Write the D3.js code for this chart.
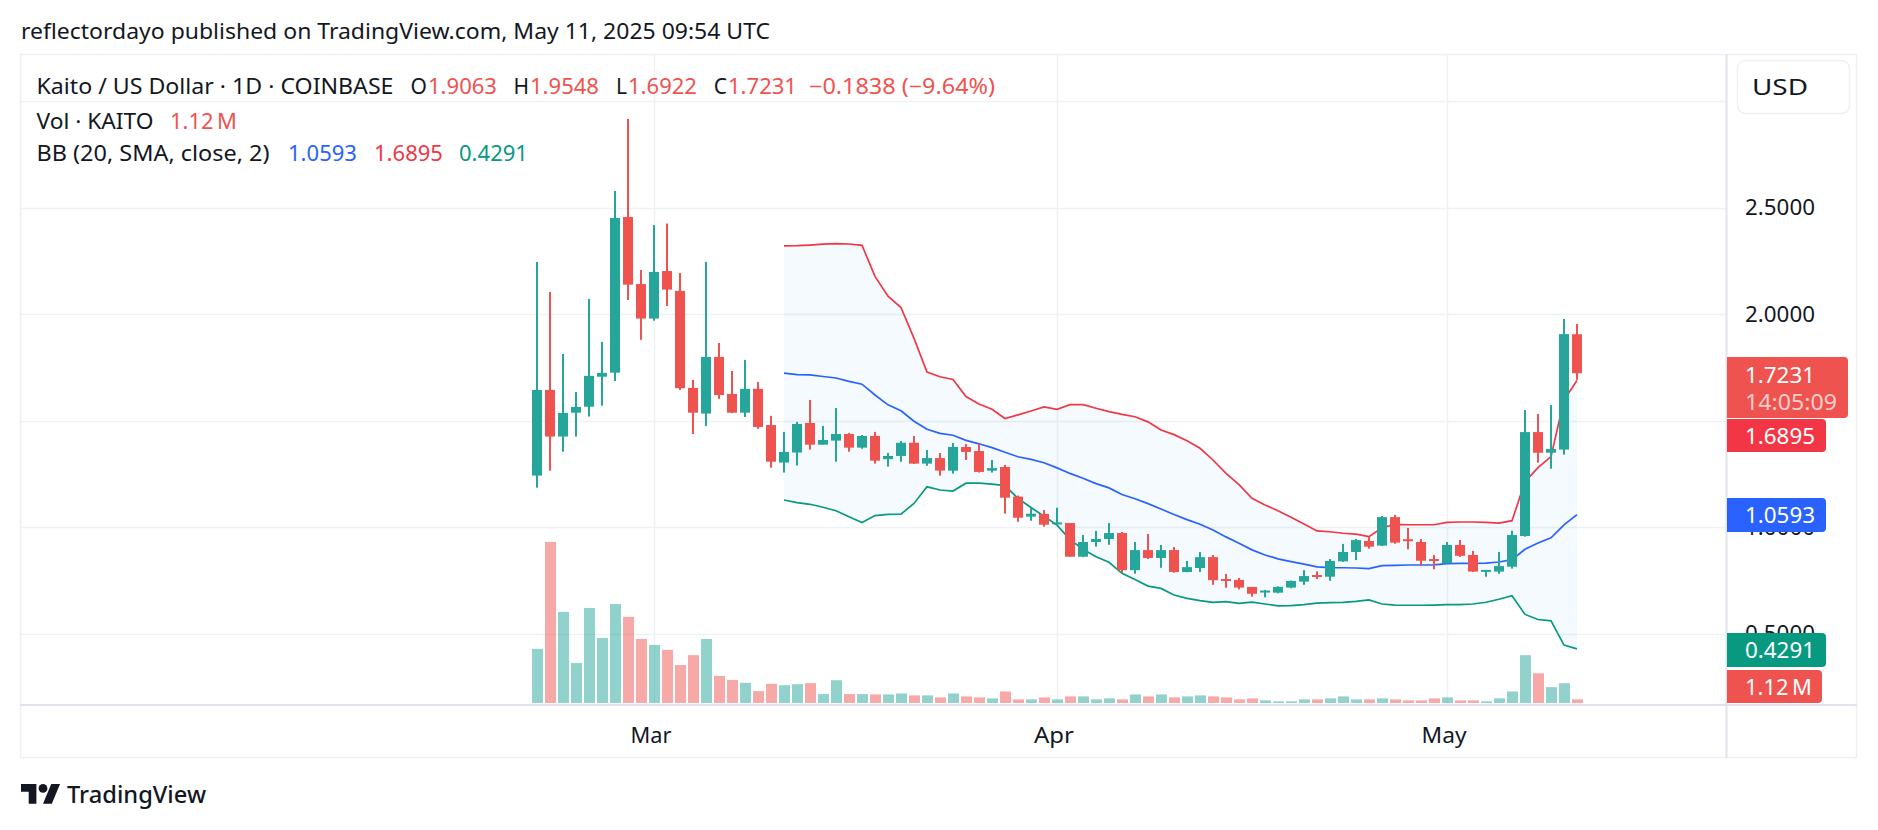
<!DOCTYPE html>
<html><head><meta charset="utf-8">
<script src="https://cdn.jsdelivr.net/npm/d3@7"></script>
<style>html,body{margin:0;padding:0;background:#fff;}svg{display:block;font-family:"Noto Sans",Roboto,sans-serif;}</style>
</head><body>
<svg id="c" width="1878" height="830"></svg>
<script>
// ---------- data ----------
const startDate = "2025-02-20", endDate = "2025-05-11";
const opens  = [1.243,1.645,1.426,1.538,1.566,1.707,1.726,2.457,2.142,1.980,2.203,2.110,1.654,1.534,1.800,1.626,1.538,1.650,1.480,1.304,1.351,1.490,1.388,1.407,1.438,1.374,1.429,1.320,1.335,1.397,1.299,1.325,1.266,1.377,1.358,1.266,1.283,1.144,1.050,1.063,1.017,1.020,0.862,0.931,0.945,0.973,0.799,0.893,0.856,0.893,0.790,0.809,0.860,0.757,0.753,0.720,0.698,0.693,0.717,0.745,0.776,0.768,0.840,0.884,0.936,0.914,1.048,0.944,0.931,0.851,0.831,0.917,0.870,0.792,0.792,0.815,0.959,1.447,1.350,1.365,1.9063];
const highs  = [2.246,2.105,1.814,1.635,2.072,1.870,2.579,2.917,2.208,2.419,2.426,2.194,1.692,2.246,1.865,1.734,1.786,1.682,1.523,1.448,1.495,1.598,1.476,1.560,1.443,1.433,1.448,1.349,1.405,1.429,1.363,1.349,1.396,1.391,1.391,1.316,1.293,1.149,1.092,1.081,1.092,1.020,0.964,0.983,1.020,0.978,0.931,0.969,0.917,0.907,0.842,0.884,0.870,0.781,0.762,0.720,0.706,0.723,0.750,0.799,0.793,0.851,0.922,0.945,0.954,1.053,1.058,0.997,0.945,0.870,0.931,0.940,0.889,0.800,0.884,0.984,1.551,1.532,1.574,1.978,1.9548];
const lows   = [1.186,1.266,1.355,1.426,1.520,1.571,1.687,2.067,1.880,1.970,2.039,1.645,1.438,1.476,1.603,1.536,1.518,1.462,1.280,1.257,1.290,1.365,1.388,1.308,1.355,1.369,1.299,1.285,1.308,1.297,1.289,1.242,1.252,1.316,1.257,1.257,1.064,1.026,1.031,1.003,1.012,0.862,0.860,0.909,0.918,0.787,0.782,0.851,0.810,0.787,0.789,0.790,0.730,0.716,0.709,0.674,0.671,0.690,0.714,0.730,0.757,0.749,0.838,0.846,0.900,0.912,0.923,0.897,0.820,0.803,0.830,0.861,0.790,0.768,0.782,0.806,0.956,1.304,1.275,1.341,1.6922];
const closes = [1.645,1.426,1.537,1.565,1.711,1.725,2.452,2.139,1.980,2.199,2.116,1.653,1.538,1.800,1.621,1.538,1.650,1.471,1.308,1.354,1.485,1.388,1.410,1.438,1.374,1.429,1.313,1.335,1.397,1.299,1.325,1.266,1.377,1.354,1.260,1.278,1.139,1.045,1.064,1.012,1.023,0.862,0.931,0.945,0.973,0.799,0.893,0.856,0.893,0.790,0.813,0.860,0.752,0.749,0.717,0.688,0.703,0.720,0.748,0.771,0.768,0.842,0.884,0.940,0.909,1.048,0.928,0.937,0.843,0.845,0.917,0.866,0.792,0.800,0.818,0.964,1.447,1.350,1.368,1.9069,1.7231];
// volume in millions
const volumes = [16.4,48.8,27.6,12.1,28.8,19.7,30.0,26.1,19.4,17.6,16.1,11.5,14.5,19.4,8.2,7.0,6.1,3.6,5.8,5.4,5.7,6.0,2.7,6.9,2.7,2.7,2.6,2.6,2.9,2.3,2.3,1.7,2.9,2.0,1.7,1.4,3.5,1.1,1.1,1.7,1.1,2.0,2.0,1.1,1.4,1.1,2.6,2.0,2.6,1.7,2.0,2.3,2.0,1.7,1.1,1.4,0.8,0.5,0.5,1.1,1.1,1.4,2.0,1.1,1.1,1.4,1.1,0.8,0.8,1.4,1.7,0.8,0.8,0.5,1.4,3.5,14.5,9.0,4.8,6.0,1.12];
// Bollinger bands (20, SMA, close, 2) from the 20th candle (Mar 11)
const bbStartIndex = 19;
const bbUpper = [2.321,2.322,2.325,2.329,2.332,2.330,2.324,2.178,2.085,2.032,1.887,1.729,1.707,1.694,1.614,1.579,1.554,1.511,1.528,1.546,1.565,1.554,1.576,1.576,1.559,1.543,1.530,1.519,1.495,1.457,1.435,1.406,1.371,1.316,1.253,1.200,1.136,1.105,1.078,1.047,1.015,0.983,0.979,0.972,0.968,0.956,0.998,1.014,1.012,1.012,1.012,1.023,1.025,1.025,1.023,1.020,1.031,1.214,1.280,1.332,1.598,1.6895];
const bbBasis = [1.724,1.717,1.716,1.708,1.701,1.685,1.672,1.621,1.575,1.547,1.498,1.460,1.441,1.432,1.408,1.392,1.374,1.352,1.331,1.319,1.303,1.279,1.253,1.230,1.205,1.185,1.154,1.134,1.111,1.086,1.060,1.036,1.014,0.987,0.955,0.925,0.894,0.870,0.852,0.839,0.827,0.814,0.811,0.810,0.809,0.806,0.820,0.821,0.823,0.823,0.824,0.829,0.831,0.831,0.832,0.837,0.848,0.897,0.926,0.951,1.011,1.0593];
const bbLower = [1.128,1.116,1.108,1.094,1.078,1.050,1.022,1.055,1.061,1.062,1.112,1.190,1.175,1.170,1.207,1.207,1.203,1.196,1.135,1.093,1.052,1.010,0.942,0.897,0.862,0.836,0.784,0.755,0.724,0.713,0.682,0.666,0.656,0.648,0.651,0.643,0.649,0.640,0.631,0.632,0.637,0.644,0.646,0.648,0.652,0.659,0.640,0.635,0.634,0.634,0.635,0.637,0.637,0.640,0.648,0.662,0.679,0.591,0.567,0.561,0.447,0.4291];
const priceTicks = [0.5,1.0,1.5,2.0,2.5,3.0];
const priceLabels = [0.5,1.0,2.0,2.5];   // 1.5000 is fully hidden behind the value boxes

// ---------- colors ----------
const UP="#26A69A", DN="#EF5350", TXT="#131722", GRID="#F0F1F4", BORDER="#E0E3EB";

const svg = d3.select("#c");
svg.append("rect").attr("width",1878).attr("height",830).attr("fill","#fff");

const parse = d3.utcParse("%Y-%m-%d");
const d0 = parse(startDate), d1 = parse(endDate);
const dates = d3.utcDay.range(d0, d3.utcDay.offset(d1,1));
const bars = dates.map((d,i)=>({d,o:opens[i],h:highs[i],l:lows[i],c:closes[i],v:volumes[i]}));

const x = d3.scaleUtc().domain([d0,d1]).range([537,1577]);
const y = d3.scaleLinear().domain([0.5,3.0]).range([633.8,101.3]);
const yv = d3.scaleLinear().domain([0,50]).range([703,538]);

const L=20, R=1726, T=54, B=705;

// text helper: fit to a measured width
function fit(sel, w){
  if(!w) return sel;
  sel.attr("textLength",w).attr("lengthAdjust","spacingAndGlyphs");
  return sel;
}
function txt(parent,xp,yp,t,c,size,w,anchor){
  const s = parent.append("text").attr("x",xp).attr("y",yp).attr("dy","0.36em")
    .attr("font-size",size||21).attr("fill",c||TXT).attr("text-anchor",anchor||"start").text(t);
  return fit(s,w);
}

// grid
const g = svg.append("g");
g.selectAll("line.h").data(priceTicks).join("line")
  .attr("x1",L).attr("x2",R).attr("y1",d=>Math.round(y(d))+0.5).attr("y2",d=>Math.round(y(d))+0.5)
  .attr("stroke",GRID).attr("stroke-width",1.5);
const months = x.ticks(d3.utcMonth.every(1)).filter(d=>d>=d0);
g.selectAll("line.v").data(months).join("line")
  .attr("x1",d=>Math.round(x(d))+0.5).attr("x2",d=>Math.round(x(d))+0.5).attr("y1",T).attr("y2",B)
  .attr("stroke",GRID).attr("stroke-width",1.5);

// volume
svg.append("g").selectAll("rect").data(bars).join("rect")
  .attr("x",d=>x(d.d)-5).attr("width",11)
  .attr("y",d=>yv(d.v)).attr("height",d=>Math.max(1,yv(0)-yv(d.v)))
  .attr("fill",d=>d.c>=d.o?UP:DN).attr("fill-opacity",0.5);

// BB
const bb = bbUpper.map((u,k)=>({d:dates[bbStartIndex+k],u,m:bbBasis[k],lo:bbLower[k]}));
svg.append("path").datum(bb).attr("fill","rgba(33,150,243,0.05)")
  .attr("d",d3.area().x(d=>x(d.d)).y0(d=>y(d.lo)).y1(d=>y(d.u)));
const line = f => d3.line().x(d=>x(d.d)).y(d=>y(f(d)));
svg.append("path").datum(bb).attr("fill","none").attr("stroke","#F23645").attr("stroke-width",1.7).attr("d",line(d=>d.u));
svg.append("path").datum(bb).attr("fill","none").attr("stroke","#2962FF").attr("stroke-width",1.7).attr("d",line(d=>d.m));
svg.append("path").datum(bb).attr("fill","none").attr("stroke","#089981").attr("stroke-width",1.7).attr("d",line(d=>d.lo));

// candles
const cg = svg.append("g");
cg.selectAll("rect.w").data(bars).join("rect")
  .attr("x",d=>x(d.d)-1).attr("width",2)
  .attr("y",d=>y(d.h)).attr("height",d=>y(d.l)-y(d.h))
  .attr("fill",d=>d.c>=d.o?UP:DN);
cg.selectAll("rect.b").data(bars).join("rect")
  .attr("x",d=>x(d.d)-5).attr("width",10)
  .attr("y",d=>y(Math.max(d.o,d.c))).attr("height",d=>Math.max(2,Math.abs(y(d.o)-y(d.c))))
  .attr("fill",d=>d.c>=d.o?UP:DN);

// frame
svg.append("rect").attr("x",20.5).attr("y",54.5).attr("width",1836).attr("height",703)
  .attr("fill","none").attr("stroke","#EEF0F3").attr("stroke-width",1.5);
svg.append("line").attr("x1",20).attr("x2",1857).attr("y1",705).attr("y2",705).attr("stroke",BORDER).attr("stroke-width",2);
svg.append("line").attr("x1",1726.5).attr("x2",1726.5).attr("y1",54).attr("y2",758).attr("stroke",BORDER).attr("stroke-width",2);

// price axis labels
const pa = svg.append("g");
priceLabels.forEach(p=>txt(pa,1745,y(p),d3.format(".4f")(p),TXT,21,70));

// time axis labels
const ta = svg.append("g");
const monthW = {Mar:41, Apr:40, May:45};
months.forEach(m=>{const t=d3.utcFormat("%b")(m); txt(ta,x(m)-3,735,t,TXT,21,monthW[t],"middle");});

// value boxes on price axis
function box(y0,h,w,fill,lines){
  const gb = svg.append("g");
  gb.append("path").attr("fill",fill)
    .attr("d",`M1727,${y0}H${1727+w-4}Q${1727+w},${y0} ${1727+w},${y0+4}V${y0+h-4}Q${1727+w},${y0+h} ${1727+w-4},${y0+h}H1727Z`);
  lines.forEach(l=>txt(gb,1745,l.y,l.t,l.c||"#fff",21,l.w));
}
const fmt = d3.format(".4f");
box(357,61,121,DN,[{t:fmt(closes[closes.length-1]),y:375,w:70},{t:"14:05:09",y:402,c:"rgba(255,255,255,0.72)",w:92}]);
box(419,33,99,"#F23645",[{t:fmt(bbUpper[bbUpper.length-1]),y:436,w:70}]);
box(498,34,99,"#2962FF",[{t:fmt(bbBasis[bbBasis.length-1]),y:515,w:70}]);
box(633,34,99,"#089981",[{t:fmt(bbLower[bbLower.length-1]),y:650,w:70}]);
box(670,33,95,DN,[{t:volumes[volumes.length-1].toFixed(2)+"\u2009M",y:687,w:67}]);

// USD button
svg.append("rect").attr("x",1737.5).attr("y",60.5).attr("width",112).attr("height",53).attr("rx",8)
  .attr("fill","#fff").attr("stroke","#EEF0F3").attr("stroke-width",1.5);
txt(svg,1752,87,"USD",TXT,21,56);

// header
txt(svg,21,31,"reflectordayo published on TradingView.com, May 11, 2025 09:54 UTC",TXT,21,749);

// legend
const last = bars[bars.length-1], prev = bars[bars.length-2];
const chg = last.c - prev.c;
txt(svg,36.5,86,"Kaito / US Dollar · 1D · COINBASE",TXT,21,357);
[["O",last.o,428],["H",last.h,530],["L",last.l,628],["C",last.c,728]].forEach(([k,v,xp])=>{
  txt(svg,xp-1,86,k,TXT,21,null,"end"); txt(svg,xp,86,fmt(v),DN,21,69);
});
txt(svg,809,86,"\u2212"+fmt(Math.abs(chg))+" (\u2212"+(Math.abs(chg)/prev.c*100).toFixed(2)+"%)",DN,21,186);
txt(svg,36.5,121,"Vol · KAITO",TXT,21,117);
txt(svg,170,121,last.v.toFixed(2)+"\u2009M",DN,21,67);
txt(svg,36.5,153,"BB (20, SMA, close, 2)",TXT,21,233);
txt(svg,288,153,fmt(bbBasis[bbBasis.length-1]),"#2962FF",21,69);
txt(svg,374,153,fmt(bbUpper[bbUpper.length-1]),"#F23645",21,69);
txt(svg,459,153,fmt(bbLower[bbLower.length-1]),"#089981",21,69);

// TradingView logo
const lg = svg.append("g").attr("transform","translate(21,779.6) scale(1.1)").attr("fill",TXT);
lg.append("path").attr("d","M14 22H7V11H0V4h14v18zM28 22h-8l7.5-18h8L28 22z");
lg.append("circle").attr("cx",20).attr("cy",8).attr("r",4);
txt(svg,67,795,"TradingView",TXT,23,139).attr("font-weight",500);
</script>
</body></html>
